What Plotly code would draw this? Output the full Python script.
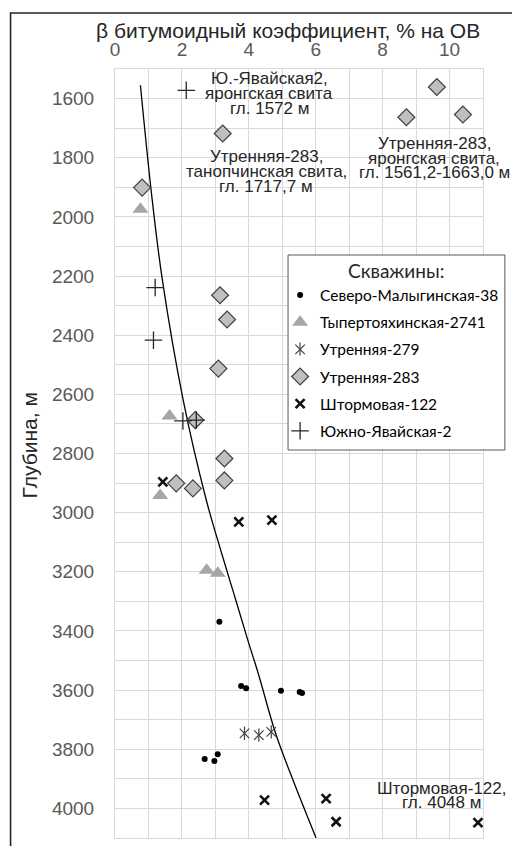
import plotly.graph_objects as go

# ---------------- data ----------------
sm38_x = [3.12, 3.77, 3.92, 4.96, 5.52, 5.59, 2.68, 3.07, 2.97]
sm38_d = [3369, 3586, 3594, 3602, 3606, 3610, 3833, 3817, 3840]

typ_x = [0.76, 1.63, 1.35, 2.74, 3.07]
typ_d = [1974, 2673, 2942, 3195, 3205]

u279_x = [3.87, 4.30, 4.67]
u279_d = [3746, 3752, 3741]

u283_x = [9.62, 8.71, 10.40, 3.22, 0.81, 3.14, 3.35, 3.09, 2.40, 3.27, 3.27, 1.83, 2.33]
u283_d = [1561, 1663, 1654, 1718, 1901, 2265, 2347, 2513, 2687, 2817, 2891, 2901, 2918]

sht_x = [1.43, 3.70, 4.69, 4.47, 6.31, 6.61, 10.85]
sht_d = [2896, 3031, 3025, 3972, 3967, 4045, 4048]

yav_x = [2.13, 1.20, 1.15, 2.03, 2.43]
yav_d = [1572, 2239, 2417, 2690, 2687]

trend_x = [0.76, 1.08, 1.41, 2.04, 2.73, 3.07, 3.55, 3.97, 4.28, 4.80, 5.32, 6.01]
trend_d = [1555, 1910, 2209, 2620, 2958, 3093, 3273, 3431, 3543, 3746, 3904, 4100]

x_ticks = [0, 2, 4, 6, 8, 10]
y_ticks = [1600, 1800, 2000, 2200, 2400, 2600, 2800, 3000, 3200, 3400, 3600, 3800, 4000]

# ---------------- geometry helpers ----------------
W, H = 512, 846
L, R, T, B = 115, 485, 69, 838


def px(xp):
    return (xp - L) / (R - L)


def py(yp):
    return 1 - (yp - T) / (B - T)


AX_FONT = "Liberation Sans, Arial, sans-serif"
LEG_FONT = "Lato, Carlito, Calibri, sans-serif"
GRID = "#D9D9D9"

fig = go.Figure()

fig.add_trace(go.Scatter(x=trend_x, y=trend_d, mode="lines",
                         line=dict(color="#000000", width=1.3, shape="spline", smoothing=1.0),
                         showlegend=False, hoverinfo="skip"))

fig.add_trace(go.Scatter(x=sm38_x, y=sm38_d, mode="markers", name="Северо-Малыгинская-38",
                         legendgroup="g1",
                         marker=dict(symbol="circle", size=6, color="#000000")))
fig.add_trace(go.Scatter(x=typ_x, y=typ_d, mode="markers", name="Тыпертояхинская-2741",
                         legendgroup="g2",
                         marker=dict(symbol="triangle-up", size=14, color="#A6A6A6")))
fig.add_trace(go.Scatter(x=u279_x, y=u279_d, mode="markers", name="Утренняя-279",
                         legendgroup="g3",
                         marker=dict(symbol="x-thin-open", size=9.5, color="#404040",
                                     line=dict(width=1.2))))
fig.add_trace(go.Scatter(x=u279_x, y=u279_d, mode="markers", name="Утренняя-279",
                         legendgroup="g3", showlegend=False,
                         marker=dict(symbol="line-ns-open", size=9.5, color="#404040",
                                     line=dict(width=1.2))))
fig.add_trace(go.Scatter(x=u283_x, y=u283_d, mode="markers", name="Утренняя-283",
                         legendgroup="g4",
                         marker=dict(symbol="diamond", size=13, color="#BFBFBF",
                                     line=dict(color="#404040", width=1.2))))
fig.add_trace(go.Scatter(x=sht_x, y=sht_d, mode="markers", name="Штормовая-122",
                         legendgroup="g5",
                         marker=dict(symbol="x-thin-open", size=9, color="#111111",
                                     line=dict(width=2.6))))
fig.add_trace(go.Scatter(x=yav_x, y=yav_d, mode="markers", name="Южно-Явайская-2",
                         legendgroup="g6",
                         marker=dict(symbol="cross-thin-open", size=12.5, color="#262626",
                                     line=dict(width=1.3))))

# ---------------- annotations ----------------
ann = []
TXT = "#262626"


def add_lines(lines, cx, centers, size=17):
    for t, cy in zip(lines, centers):
        ann.append(dict(text=t, x=px(cx), y=py(cy), xref="paper", yref="paper",
                        showarrow=False, xanchor="center", yanchor="middle",
                        font=dict(family=AX_FONT, size=size, color=TXT)))


add_lines(["Ю.-Явайская2,", "яронгская свита", "гл. 1572 м"], 270, [78.8, 93.8, 108.8])
add_lines(["Утренняя-283,", "танопчинская свита,", "гл. 1717,7 м"], 267, [156.2, 171.2, 186.2])
add_lines(["Утренняя-283,", "яронгская свита,", "гл. 1561,2-1663,0 м"], 436, [143.5, 158, 172])
add_lines(["Штормовая-122,", "гл. 4048 м"], 443, [788.5, 802.8])

# axis titles
ann.append(dict(text="β битумоидный коэффициент, % на ОВ", x=px(289), y=py(31),
                xref="paper", yref="paper", showarrow=False, xanchor="center", yanchor="middle",
                font=dict(family=AX_FONT, size=21, color=TXT)))
ann.append(dict(text="Глубина, м", x=px(29), y=py(445), textangle=-90,
                xref="paper", yref="paper", showarrow=False, xanchor="center", yanchor="middle",
                font=dict(family=AX_FONT, size=21, color=TXT)))
# legend title
ann.append(dict(text="Скважины:", x=px(398), y=py(270),
                xref="paper", yref="paper", showarrow=False, xanchor="center", yanchor="middle",
                font=dict(family=LEG_FONT, size=19, color=TXT)))

shapes = [
    # outer chart frame
    dict(type="rect", xref="paper", yref="paper", x0=px(10), x1=px(520), y0=py(13), y1=py(860),
         line=dict(color="#262626", width=1.6), fillcolor="rgba(0,0,0,0)", layer="above"),
    # legend box
    dict(type="rect", xref="paper", yref="paper", x0=px(289), x1=px(507), y0=py(255), y1=py(450),
         line=dict(color="#595959", width=1), fillcolor="#FFFFFF", layer="above"),
    # vertical stroke completing the "Ж"-shaped legend symbol of Утренняя-279
    dict(type="line", xref="paper", yref="paper", x0=px(301), x1=px(301),
         y0=py(349 - 6.5), y1=py(349 + 6.5),
         line=dict(color="#404040", width=1.2), layer="above"),
]

fig.update_layout(
    width=W, height=H,
    margin=dict(l=L, r=W - R, t=T, b=H - B, pad=0),
    paper_bgcolor="#FFFFFF", plot_bgcolor="#FFFFFF",
    font=dict(family=AX_FONT, color="#595959"),
    annotations=ann, shapes=shapes,
    legend=dict(x=px(281), y=py(278.5), xanchor="left", yanchor="top",
                bgcolor="rgba(0,0,0,0)", borderwidth=0,
                font=dict(family=LEG_FONT, size=15.5, color="#000000"),
                tracegroupgap=4, traceorder="grouped", itemsizing="trace"),
    xaxis=dict(side="top", range=[0, 11], tickmode="array", tickvals=x_ticks,
               ticktext=[str(v) for v in x_ticks],
               tickfont=dict(family=AX_FONT, size=19, color="#595959"),
               showgrid=True, gridcolor=GRID, gridwidth=1,
               minor=dict(dtick=1, tick0=0, showgrid=True, gridcolor=GRID, gridwidth=1),
               showline=True, linecolor=GRID, mirror=True, zeroline=False,
               ticks="", ticklabelstandoff=4),
    yaxis=dict(range=[4100, 1500], tickmode="array", tickvals=y_ticks,
               ticktext=[str(v) for v in y_ticks],
               tickfont=dict(family=AX_FONT, size=19, color="#595959"),
               showgrid=True, gridcolor=GRID, gridwidth=1,
               minor=dict(dtick=100, tick0=1500, showgrid=True, gridcolor=GRID, gridwidth=1),
               showline=True, linecolor=GRID, mirror=True, zeroline=False,
               ticks="", ticklabelstandoff=16),
)

fig.write_html("out.html")
